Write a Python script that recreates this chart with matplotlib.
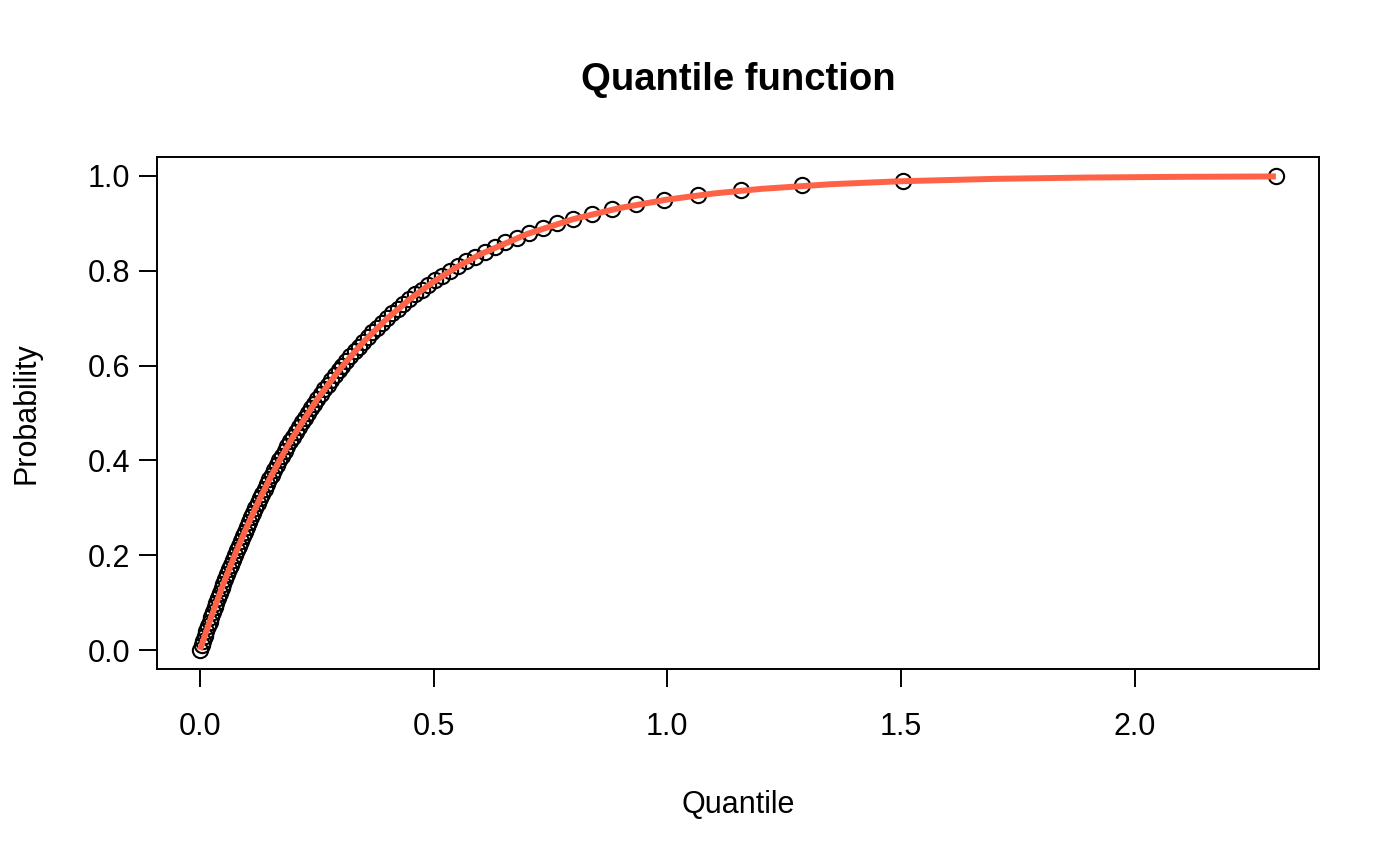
import matplotlib
matplotlib.use("Agg")
import matplotlib.pyplot as plt

plt.rcParams['font.family'] = ['Liberation Sans', 'DejaVu Sans']

# probabilities at which the quantile function was evaluated
probs = [0.00, 0.01, 0.02, 0.03, 0.04, 0.05, 0.06, 0.07, 0.08, 0.09,
         0.10, 0.11, 0.12, 0.13, 0.14, 0.15, 0.16, 0.17, 0.18, 0.19,
         0.20, 0.21, 0.22, 0.23, 0.24, 0.25, 0.26, 0.27, 0.28, 0.29,
         0.30, 0.31, 0.32, 0.33, 0.34, 0.35, 0.36, 0.37, 0.38, 0.39,
         0.40, 0.41, 0.42, 0.43, 0.44, 0.45, 0.46, 0.47, 0.48, 0.49,
         0.50, 0.51, 0.52, 0.53, 0.54, 0.55, 0.56, 0.57, 0.58, 0.59,
         0.60, 0.61, 0.62, 0.63, 0.64, 0.65, 0.66, 0.67, 0.68, 0.69,
         0.70, 0.71, 0.72, 0.73, 0.74, 0.75, 0.76, 0.77, 0.78, 0.79,
         0.80, 0.81, 0.82, 0.83, 0.84, 0.85, 0.86, 0.87, 0.88, 0.89,
         0.90, 0.91, 0.92, 0.93, 0.94, 0.95, 0.96, 0.97, 0.98, 0.99,
         1.00]

# quantiles returned for those probabilities
quantiles = [0.0000, 0.0034, 0.0067, 0.0102, 0.0136, 0.0171, 0.0206, 0.0242, 0.0278, 0.0314,
             0.0351, 0.0388, 0.0426, 0.0464, 0.0503, 0.0542, 0.0581, 0.0621, 0.0662, 0.0702,
             0.0744, 0.0786, 0.0828, 0.0871, 0.0915, 0.0959, 0.1004, 0.1049, 0.1095, 0.1142,
             0.1188, 0.1236, 0.1285, 0.1334, 0.1384, 0.1435, 0.1487, 0.1539, 0.1592, 0.1646,
             0.1701, 0.1757, 0.1814, 0.1872, 0.1931, 0.1991, 0.2052, 0.2114, 0.2177, 0.2241,
             0.2307, 0.2375, 0.2443, 0.2513, 0.2584, 0.2658, 0.2733, 0.2809, 0.2887, 0.2967,
             0.3049, 0.3134, 0.3220, 0.3308, 0.3400, 0.3493, 0.3590, 0.3689, 0.3791, 0.3897,
             0.4005, 0.4118, 0.4234, 0.4355, 0.4481, 0.4611, 0.4746, 0.4888, 0.5035, 0.5189,
             0.5352, 0.5522, 0.5701, 0.5890, 0.6091, 0.6305, 0.6533, 0.6779, 0.7043, 0.7331,
             0.7645, 0.7993, 0.8381, 0.8820, 0.9326, 0.9923, 1.0651, 1.1582, 1.2881, 1.5036,
             2.3026]

# reference distribution function (red curve)
curve_x = [0.0, 0.025, 0.05, 0.075, 0.10, 0.125, 0.15, 0.175, 0.20, 0.25,
           0.30, 0.35, 0.40, 0.45, 0.50, 0.55, 0.60, 0.70, 0.80, 0.90,
           1.00, 1.10, 1.20, 1.35, 1.50, 1.70, 1.90, 2.10, 2.3026]
curve_y = [0.0, 0.0723, 0.1393, 0.2015, 0.2592, 0.3127, 0.3624, 0.4084, 0.4512, 0.5276,
           0.5934, 0.6501, 0.6988, 0.7408, 0.7769, 0.8080, 0.8347, 0.8775, 0.9093, 0.9328,
           0.9502, 0.9631, 0.9727, 0.9826, 0.9889, 0.9939, 0.9967, 0.9982, 0.9990]

xticks = [0.0, 0.5, 1.0, 1.5, 2.0]
yticks = [0.0, 0.2, 0.4, 0.6, 0.8, 1.0]

fig = plt.figure(figsize=(14, 8.66), dpi=100)
ax = fig.add_axes([0.1121, 0.2275, 0.8300, 0.5912])

ax.plot(quantiles, probs, linestyle='none', marker='o', markersize=11,
        markerfacecolor='none', markeredgecolor='black', markeredgewidth=1.5)
ax.plot(curve_x, curve_y, color='#FF6347', linewidth=4.3, solid_capstyle='butt')

ax.set_xlim(-0.0921, 2.3947)
ax.set_ylim(-0.04, 1.04)
ax.set_xticks(xticks)
ax.set_xticklabels(['%.1f' % t for t in xticks])
ax.set_yticks(yticks)
ax.set_yticklabels(['%.1f' % t for t in yticks])
ax.tick_params(axis='both', direction='out', length=13, width=1.4, labelsize=22, color='black')
ax.tick_params(axis='x', pad=18)
ax.tick_params(axis='y', pad=6)
for s in ax.spines.values():
    s.set_linewidth(1.4)

fig.text(0.5271, 1 - 805 / 866, 'Quantile', ha='center', va='center', fontsize=22)
fig.text(27 / 1400, 1 - 413 / 866, 'Probability', ha='center', va='center', fontsize=22, rotation=90)
fig.text(0.5271, 1 - 80 / 866, 'Quantile function', ha='center', va='center', fontsize=27.5, fontweight='bold')

fig.savefig('out.png', dpi=100)
